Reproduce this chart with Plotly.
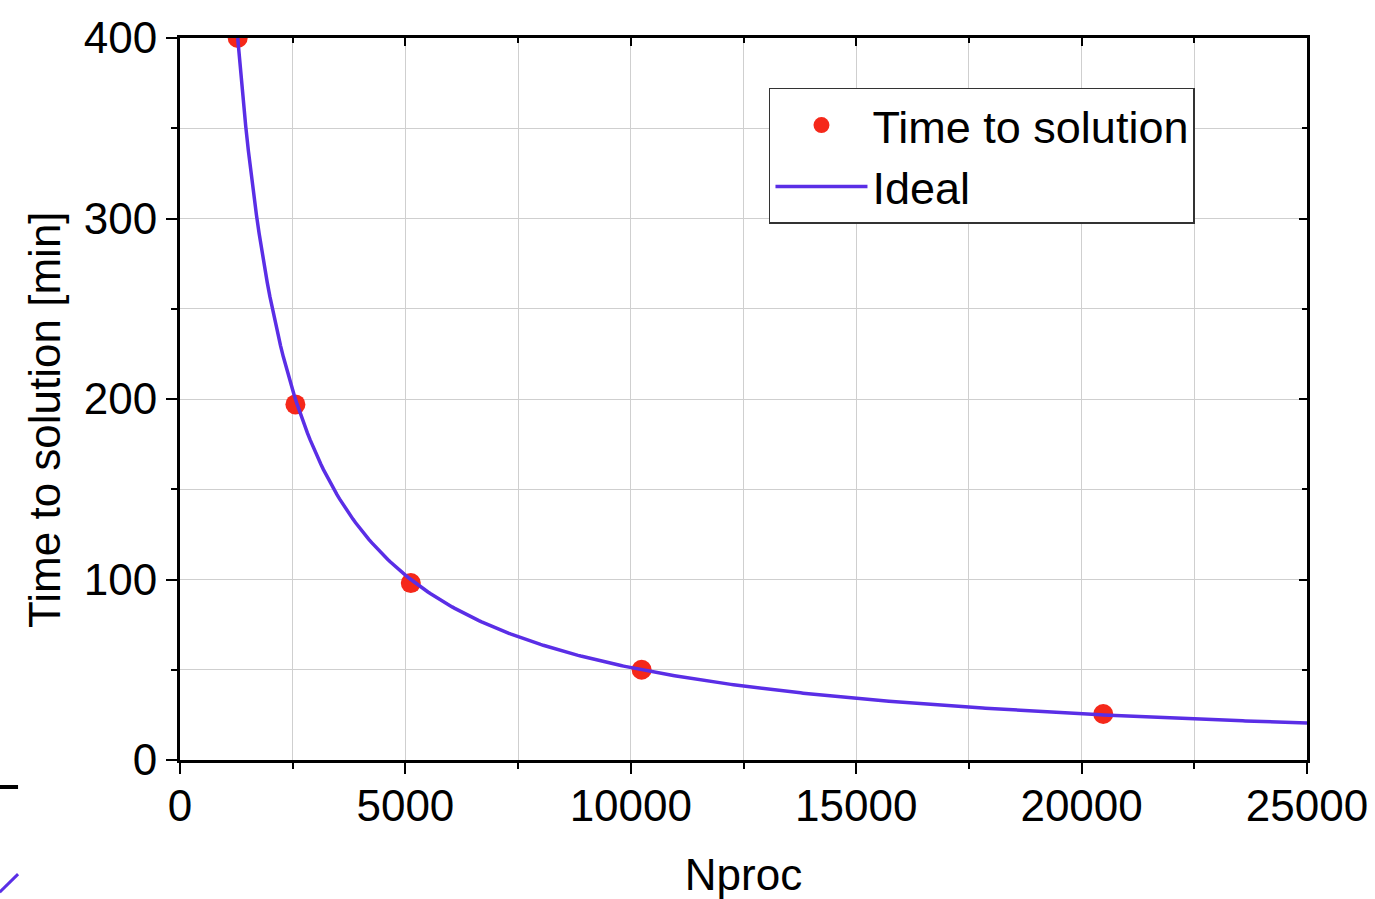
import numpy as np
import plotly.graph_objects as go

# Data
nproc = [1280, 2560, 5120, 10240, 20480]
time_min = [400, 197, 98, 50, 25.5]
ideal_ref_n = 1280
ideal_ref_t = 400
ideal_x = np.linspace(1280, 25000, 400)
ideal_y = ideal_ref_t * ideal_ref_n / ideal_x

x_ticks = [0, 5000, 10000, 15000, 20000, 25000]
y_ticks = [0, 100, 200, 300, 400]

FONT = "Liberation Sans, Arial, Helvetica, sans-serif"
LINE_COLOR = "#5a2ee6"
DOT_COLOR = "#f5281a"
GRID = "#cfcfcf"
FS = 44

fig = go.Figure()
fig.add_trace(go.Scatter(x=nproc, y=time_min, mode="markers", name="Time to solution",
                         marker=dict(color=DOT_COLOR, size=20, line=dict(width=0))))
fig.add_trace(go.Scatter(x=ideal_x, y=ideal_y, mode="lines", name="Ideal",
                         line=dict(color=LINE_COLOR, width=3.5)))
# helper trace for mirrored (top/right) axes with inside ticks
fig.add_trace(go.Scatter(x=nproc, y=time_min, mode="none", showlegend=False,
                         hoverinfo="skip", xaxis="x2", yaxis="y2"))

axis_common = dict(showline=True, linecolor="black", linewidth=3, automargin=False,
                   tickfont=dict(family=FONT, size=FS, color="black"),
                   zeroline=False, gridcolor=GRID, gridwidth=1.3)

fig.update_layout(
    width=1375, height=899,
    margin=dict(l=180, r=68, t=38, b=139),
    paper_bgcolor="white", plot_bgcolor="white",
    font=dict(family=FONT, color="black"),
    xaxis=dict(range=[0, 25000], tickvals=x_ticks, ticktext=[str(v) for v in x_ticks],
               ticks="outside", ticklen=11, tickwidth=1.5, tickcolor="black",
               ticklabelstandoff=-6,
               minor=dict(dtick=2500, ticks="outside", ticklen=6, tickcolor="black",
                          showgrid=True, gridcolor=GRID, gridwidth=1.3),
               title=dict(text="Nproc", font=dict(family=FONT, size=FS, color="black"), standoff=35),
               **axis_common),
    yaxis=dict(range=[0, 400], tickvals=y_ticks, ticktext=[str(v) for v in y_ticks],
               ticks="outside", ticklen=11, tickwidth=1.5, tickcolor="black",
               minor=dict(dtick=50, ticks="outside", ticklen=6, tickcolor="black",
                          showgrid=True, gridcolor=GRID, gridwidth=1.3),
               **axis_common),
    xaxis2=dict(overlaying="x", side="top", anchor="y", range=[0, 25000], dtick=5000,
                showticklabels=False, showgrid=False, zeroline=False, automargin=False,
                showline=True, linecolor="black", linewidth=3,
                ticks="inside", ticklen=8, tickwidth=1.5, tickcolor="black",
                minor=dict(dtick=2500, ticks="inside", ticklen=5, tickcolor="black")),
    yaxis2=dict(overlaying="y", side="right", anchor="x", range=[0, 400], dtick=100,
                showticklabels=False, showgrid=False, zeroline=False, automargin=False,
                showline=True, linecolor="black", linewidth=3,
                ticks="inside", ticklen=8, tickwidth=1.5, tickcolor="black",
                minor=dict(dtick=50, ticks="inside", ticklen=5, tickcolor="black")),
    legend=dict(x=0.5226, y=0.931, xanchor="left", yanchor="top",
                bgcolor="white", bordercolor="#333", borderwidth=1.5,
                font=dict(family=FONT, size=45, color="black"),
                itemwidth=92, tracegroupgap=0),
    showlegend=True,
    annotations=[
        dict(text="Time to solution [min]", xref="paper", yref="paper",
             x=0, y=0.471, xanchor="center", yanchor="middle", xshift=-135,
             textangle=-90, showarrow=False,
             font=dict(family=FONT, size=FS, color="black")),
    ],
    shapes=[
        dict(type="line", xref="paper", yref="paper", x0=-0.16, x1=-0.1437, y0=-0.0374, y1=-0.0374,
             line=dict(color="black", width=4)),
        dict(type="line", xref="paper", yref="paper", x0=-0.16, x1=-0.1437, y0=-0.183, y1=-0.158,
             line=dict(color=LINE_COLOR, width=3)),
    ],
)

fig.write_html("out.html")
